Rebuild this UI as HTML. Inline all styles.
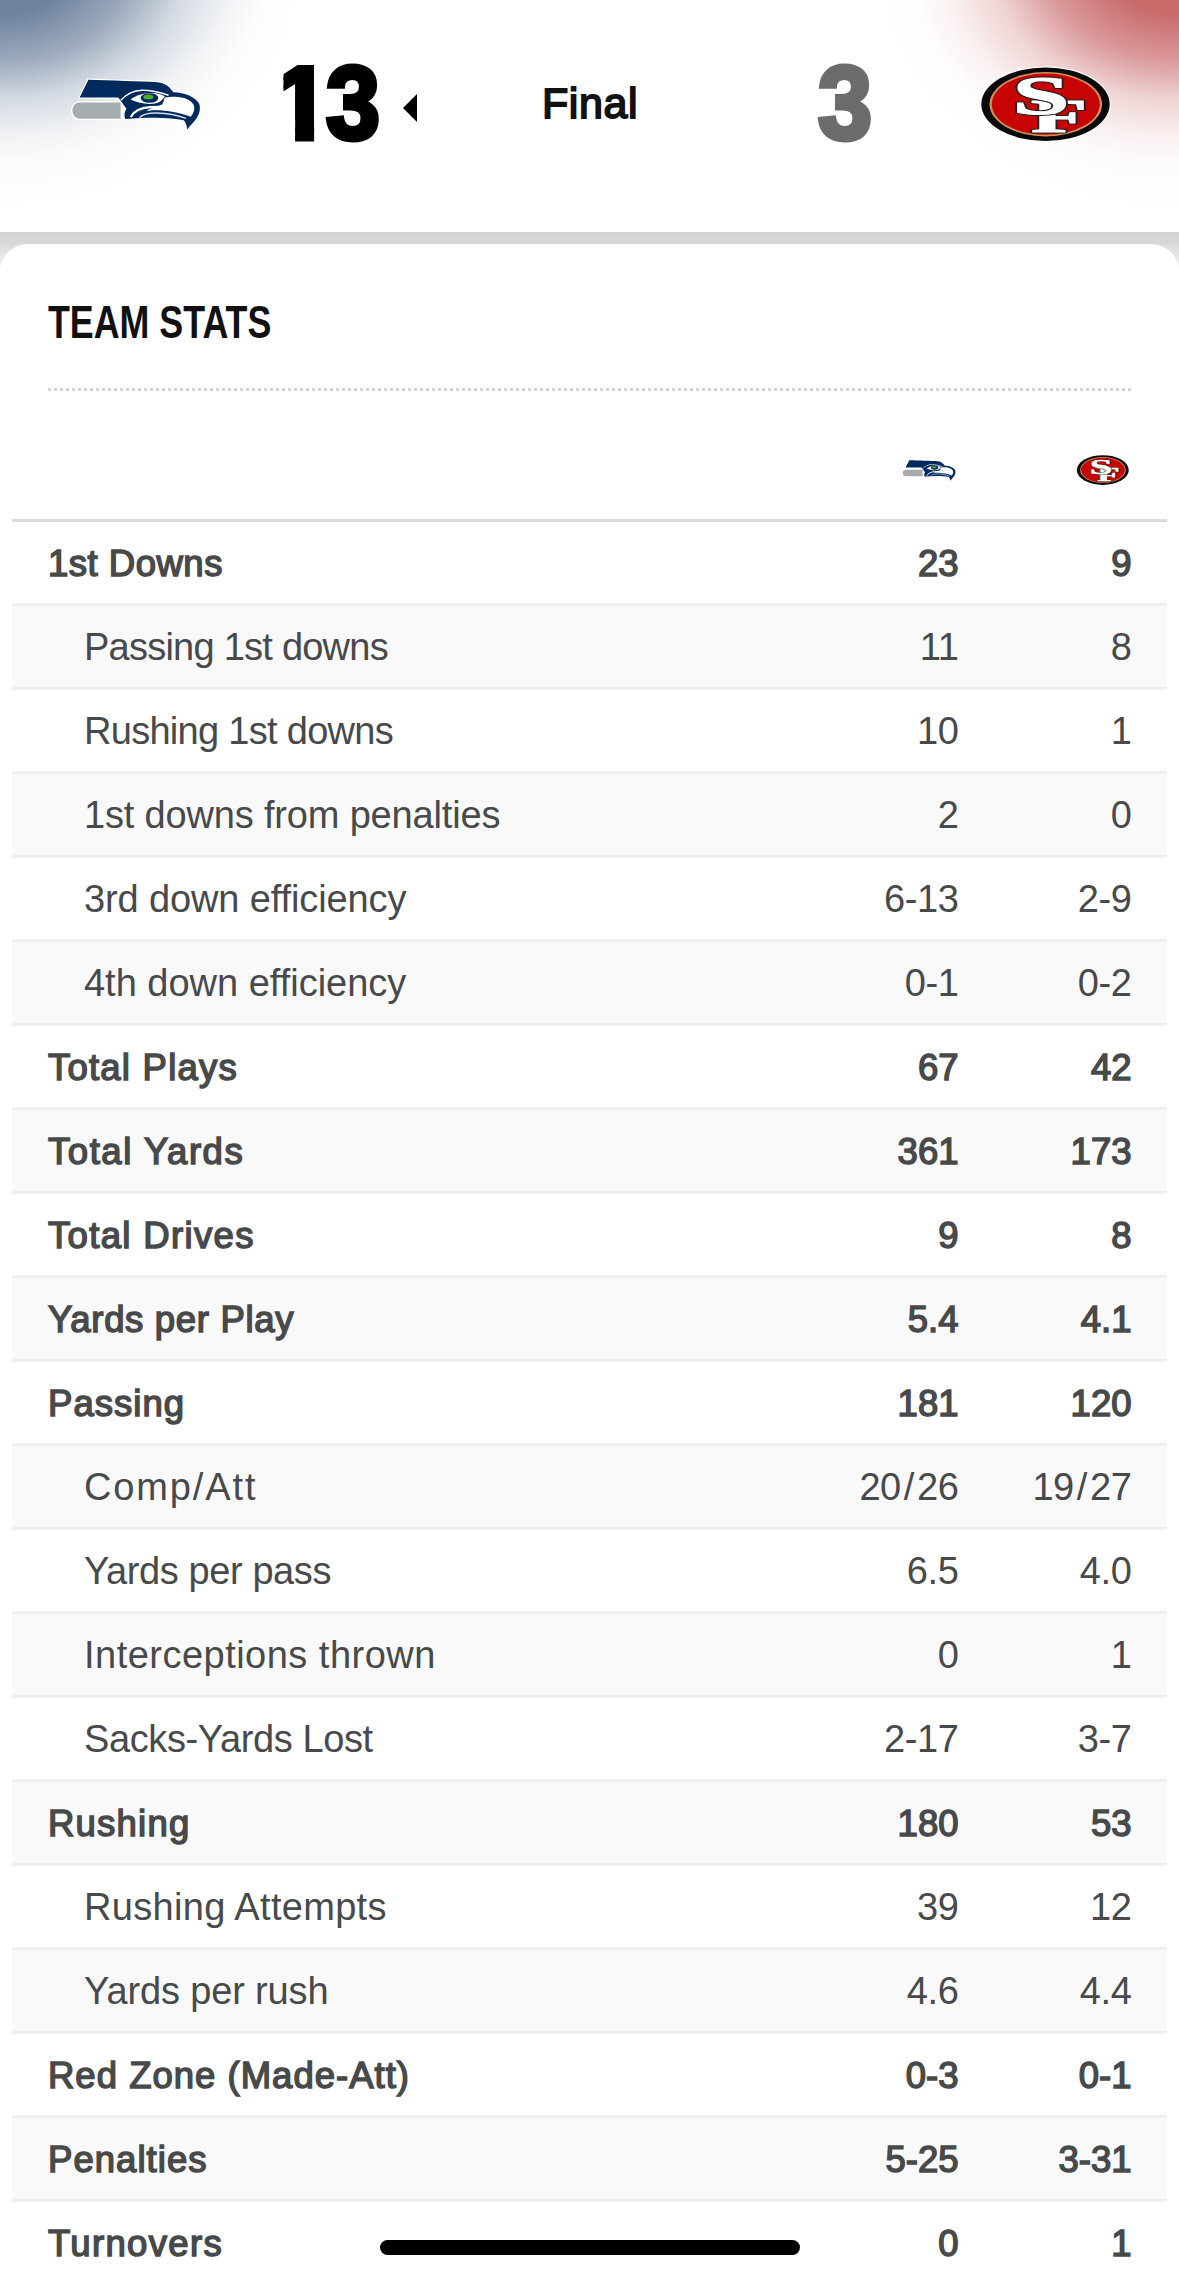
<!DOCTYPE html>
<html>
<head>
<meta charset="utf-8">
<style>
*{margin:0;padding:0;box-sizing:border-box}
html,body{width:1179px;height:2279px;overflow:hidden;background:#fff}
body{position:relative;font-family:"Liberation Sans",Arial,sans-serif;color:#48494a}
.hdr{position:absolute;left:0;top:0;width:1179px;height:232px;background:#fff;overflow:hidden}
.gl{position:absolute;left:0;top:0;width:1179px;height:232px;background:radial-gradient(ellipse 268px 200px at 0 -40px,rgba(110,130,158,1) 0%,rgba(110,130,158,1) 27%,rgba(110,130,158,.66) 50%,rgba(110,130,158,.24) 70%,rgba(110,130,158,.05) 88%,rgba(110,130,158,0) 100%),radial-gradient(ellipse 300px 240px at 0 -30px,rgba(110,130,158,.1) 0%,rgba(110,130,158,.06) 65%,rgba(110,130,158,0) 100%)}
.gr{position:absolute;left:0;top:0;width:1179px;height:232px;background:radial-gradient(ellipse 268px 200px at 1179px -40px,rgba(201,106,107,1) 0%,rgba(201,106,107,1) 27%,rgba(201,106,107,.66) 50%,rgba(201,106,107,.24) 70%,rgba(201,106,107,.05) 88%,rgba(201,106,107,0) 100%),radial-gradient(ellipse 300px 240px at 1179px -30px,rgba(201,106,107,.1) 0%,rgba(201,106,107,.06) 65%,rgba(201,106,107,0) 100%)}
.score{position:absolute;top:50px;font-weight:700;font-size:103px;line-height:108px;-webkit-text-stroke:5px currentColor}
.score span{position:absolute;top:0;transform-origin:0 0}
.d1{left:273.5px;clip-path:polygon(10px 0,40.6px 0,40.6px 120px,21.6px 120px,21.6px 70px,10px 70px)}
.d3{left:326px;transform:scaleX(.942)}
.e3{left:818px;transform:scaleX(.942)}
.final{position:absolute;left:542px;top:79px;font-size:43px;font-weight:400;-webkit-text-stroke:1.8px #111;color:#111;letter-spacing:.6px;line-height:48px}
.tri{position:absolute;left:403px;top:94px;width:0;height:0;border-top:14px solid transparent;border-bottom:14px solid transparent;border-right:14px solid #000}
.band{position:absolute;left:0;top:232px;width:1179px;height:50px;background:linear-gradient(#d3d3d5 0,#d7d7d9 11px,#dedee0 14px,#e6e6e8 24px,#f2f2f3 34px,#fff 44px)}
.card{position:absolute;left:0;top:244px;width:1179px;height:2100px;background:#fff;border-radius:28px 28px 0 0}
.title{position:absolute;left:48px;top:297px;font-size:46px;font-weight:700;color:#111;line-height:50px;transform-origin:0 0;transform:scaleX(.778);white-space:nowrap}
.dots{position:absolute;left:48px;top:388px;width:1083px;height:3px;background-image:linear-gradient(90deg,#d3d3d3 0,#d3d3d3 3px,transparent 3px);background-size:6px 3px}
.thb{position:absolute;left:12px;top:519px;width:1155px;height:3px;background:#dadada}
.tbl{position:absolute;left:12px;top:522px;width:1155px}
.r{position:relative;height:84px;border-bottom:3px solid #efefef;font-size:38px;line-height:83px;white-space:nowrap;letter-spacing:-.4px}
.r.g{background:#f9f9f9}
.r .l{position:absolute;left:72px}
.r .a{position:absolute;right:208.5px}
.r .b{position:absolute;right:35.5px}
.r.bd{font-weight:400;font-size:36.5px;-webkit-text-stroke:1.5px currentColor;letter-spacing:.7px}
.r.bd .l{left:36px}
.r.bd .a,.r.bd .b{letter-spacing:0}
.sl{margin:0 3px}
.home{position:absolute;left:380px;top:2240px;width:420px;height:15px;border-radius:8px;background:#000}
</style>
</head>
<body>
<div class="hdr">
  <div class="gl"></div>
  <div class="gr"></div>
</div>
<div class="score" style="left:0;color:#000"><span class="d1">1</span><span class="d3">3</span></div>
<div class="tri"></div>
<div class="final">Final</div>
<div class="score" style="left:0;color:#6b6c6e"><span class="e3">3</span></div>
<div class="band"></div>
<div class="card"></div>
<div class="title">TEAM STATS</div>
<div class="dots"></div>
<div class="thb"></div>
<div class="tbl">
  <div class="r bd"><span class="l" style="letter-spacing:0.5px">1st Downs</span><span class="a">23</span><span class="b">9</span></div>
  <div class="r g"><span class="l" style="letter-spacing:-0.76px">Passing 1st downs</span><span class="a">11</span><span class="b">8</span></div>
  <div class="r"><span class="l" style="letter-spacing:-0.71px">Rushing 1st downs</span><span class="a">10</span><span class="b">1</span></div>
  <div class="r g"><span class="l" style="letter-spacing:-0.17px">1st downs from penalties</span><span class="a">2</span><span class="b">0</span></div>
  <div class="r"><span class="l" style="letter-spacing:-0.12px">3rd down efficiency</span><span class="a">6-13</span><span class="b">2-9</span></div>
  <div class="r g"><span class="l" style="letter-spacing:-0.01px">4th down efficiency</span><span class="a">0-1</span><span class="b">0-2</span></div>
  <div class="r bd"><span class="l" style="letter-spacing:1.22px">Total Plays</span><span class="a">67</span><span class="b">42</span></div>
  <div class="r g bd"><span class="l" style="letter-spacing:1.55px">Total Yards</span><span class="a">361</span><span class="b">173</span></div>
  <div class="r bd"><span class="l" style="letter-spacing:1.34px">Total Drives</span><span class="a">9</span><span class="b">8</span></div>
  <div class="r g bd"><span class="l" style="letter-spacing:0.68px">Yards per Play</span><span class="a">5.4</span><span class="b">4.1</span></div>
  <div class="r bd"><span class="l" style="letter-spacing:1.03px">Passing</span><span class="a">181</span><span class="b">120</span></div>
  <div class="r g"><span class="l" style="letter-spacing:1.87px">Comp/Att</span><span class="a">20<span class="sl">/</span>26</span><span class="b">19<span class="sl">/</span>27</span></div>
  <div class="r"><span class="l" style="letter-spacing:-0.41px">Yards per pass</span><span class="a">6.5</span><span class="b">4.0</span></div>
  <div class="r g"><span class="l" style="letter-spacing:0.48px">Interceptions thrown</span><span class="a">0</span><span class="b">1</span></div>
  <div class="r"><span class="l" style="letter-spacing:-0.39px">Sacks-Yards Lost</span><span class="a">2-17</span><span class="b">3-7</span></div>
  <div class="r g bd"><span class="l" style="letter-spacing:1.22px">Rushing</span><span class="a">180</span><span class="b">53</span></div>
  <div class="r"><span class="l" style="letter-spacing:0.31px">Rushing Attempts</span><span class="a">39</span><span class="b">12</span></div>
  <div class="r g"><span class="l" style="letter-spacing:-0.14px">Yards per rush</span><span class="a">4.6</span><span class="b">4.4</span></div>
  <div class="r bd"><span class="l" style="letter-spacing:1.01px">Red Zone (Made-Att)</span><span class="a">0-3</span><span class="b">0-1</span></div>
  <div class="r g bd"><span class="l" style="letter-spacing:1.05px">Penalties</span><span class="a">5-25</span><span class="b">3-31</span></div>
  <div class="r bd"><span class="l" style="letter-spacing:1.34px">Turnovers</span><span class="a">0</span><span class="b">1</span></div>
</div>





<!--LOGOS--><svg style="position:absolute;left:66px;top:72px" width="140" height="64" viewBox="66 72 140 64"><path d="M78 98.6 L87.6 78.6 C110 79.5 140 80 158 81 C166 82 171 86 174.5 91.3 C187 91.8 196.5 96.5 200.3 103 C202.8 108 201 115.5 196 121.5 C193 125 190 128 186.8 131.5 C186.8 127 186 123.5 184 121.5 C170 118.2 150 118.3 124 120.2 C122.4 116 123 112 125 108.8 C123 106 121 103.5 119.3 101 L117 98.8 Z" fill="#fff"/>
<path d="M79.5 101.3 L125 101.3 L125 120 L79.5 120 C74.5 120 71.1 116 71.1 110.6 C71.1 105.3 74.5 101.3 79.5 101.3 Z" fill="#fff"/>
<path d="M80 102.6 L120.6 102.6 L120.6 118.7 L80 118.7 C75.5 118.7 72.4 115.3 72.4 110.6 C72.4 106 75.5 102.6 80 102.6 Z" fill="#a5acaf"/>
<path d="M79.6 97.6 L88.4 79.8 C110 80.6 140 81.2 157.5 82.2 C165.5 83 170 87 173.3 92.3 C185.5 92.8 195 97 198.9 103.3 C201.2 108 199.6 115 195 120.5 C192.3 123.7 189.5 126.5 187 129.6 C187 125.8 186 122.8 183.8 120.3 C170 117 150 117 125.2 119 C123.8 115.5 124.4 112 126.4 108.7 C124.5 106 122.6 103.5 120.7 100.8 L118.2 97.6 Z" fill="#002a5c"/>
<path d="M120.8 100.3 C126 94.5 133 90.3 142 90.2 C151 90.1 160 92.3 168.5 95.2" fill="none" stroke="#fff" stroke-width="1.5"/>
<path d="M164.5 97.5 C168 97 171 96.8 175 96.8 C184 97 191 100 193.8 105 C195.2 109 193.8 113 190.8 116.8 C184 114 172 111.2 160 110.3 C155 110 150 110.2 146.5 111 C150 108 157 106.5 162 104.5 C163.5 102 164 100 164.5 97.5 Z" fill="#fff"/>
<path d="M130.8 117 C134 111 141 107.8 150 107.2 L160 106.8" fill="none" stroke="#fff" stroke-width="2.3"/>
<path d="M139.5 117.6 C143 114 149 112.8 157 113 C167 113.3 177 115 186 118.3" fill="none" stroke="#d5dde6" stroke-width="1.4"/>
<path d="M130.5 99.6 C136.5 95 144.5 92.8 152 93.1 C157.5 93.3 161.5 94.6 164.8 96.2 C162.5 100.2 159 102.8 155 103.6 C147 104.6 137.5 103.2 130.5 99.6 Z" fill="#fff"/>
<ellipse cx="149.5" cy="98" rx="8.8" ry="4.8" fill="#002a5c"/>
<ellipse cx="148.3" cy="96.9" rx="5" ry="2.5" fill="#4fae32"/>
</svg><svg style="position:absolute;left:976px;top:62px" width="140" height="84" viewBox="976 62 140 84"><ellipse cx="1045.5" cy="104.2" rx="65.4" ry="38" fill="#fff" opacity=".85"/>
<ellipse cx="1045.5" cy="104.2" rx="64.2" ry="36.8" fill="#0a0a0a"/>
<ellipse cx="1045.8" cy="104.2" rx="56.3" ry="32.2" fill="#cf9160"/>
<ellipse cx="1045.8" cy="104.2" rx="54" ry="30.6" fill="#c70303"/>
<g font-family="'Liberation Serif', serif" font-weight="700" text-anchor="middle">
<text x="1059" y="132" font-size="46" fill="#fff" stroke="#222" stroke-width="3" stroke-linejoin="round" transform="translate(1059 0) scale(2 1) translate(-1059 0)">F</text>
<text x="1059" y="132" font-size="46" fill="#fff" stroke="#fff" stroke-width="1" transform="translate(1059 0) scale(2 1) translate(-1059 0)">F</text>
<text x="1041" y="114.3" font-size="54" fill="#fff" stroke="#222" stroke-width="3" stroke-linejoin="round" transform="translate(1041 0) scale(1.9 1) translate(-1041 0)">S</text>
<text x="1041" y="114.3" font-size="54" fill="#fff" stroke="#fff" stroke-width="1" transform="translate(1041 0) scale(1.9 1) translate(-1041 0)">S</text>
</g>
</svg><svg style="position:absolute;left:900px;top:457px" width="58" height="26.5" viewBox="66 72 140 64"><path d="M78 98.6 L87.6 78.6 C110 79.5 140 80 158 81 C166 82 171 86 174.5 91.3 C187 91.8 196.5 96.5 200.3 103 C202.8 108 201 115.5 196 121.5 C193 125 190 128 186.8 131.5 C186.8 127 186 123.5 184 121.5 C170 118.2 150 118.3 124 120.2 C122.4 116 123 112 125 108.8 C123 106 121 103.5 119.3 101 L117 98.8 Z" fill="#fff"/>
<path d="M79.5 101.3 L125 101.3 L125 120 L79.5 120 C74.5 120 71.1 116 71.1 110.6 C71.1 105.3 74.5 101.3 79.5 101.3 Z" fill="#fff"/>
<path d="M80 102.6 L120.6 102.6 L120.6 118.7 L80 118.7 C75.5 118.7 72.4 115.3 72.4 110.6 C72.4 106 75.5 102.6 80 102.6 Z" fill="#a5acaf"/>
<path d="M79.6 97.6 L88.4 79.8 C110 80.6 140 81.2 157.5 82.2 C165.5 83 170 87 173.3 92.3 C185.5 92.8 195 97 198.9 103.3 C201.2 108 199.6 115 195 120.5 C192.3 123.7 189.5 126.5 187 129.6 C187 125.8 186 122.8 183.8 120.3 C170 117 150 117 125.2 119 C123.8 115.5 124.4 112 126.4 108.7 C124.5 106 122.6 103.5 120.7 100.8 L118.2 97.6 Z" fill="#002a5c"/>
<path d="M120.8 100.3 C126 94.5 133 90.3 142 90.2 C151 90.1 160 92.3 168.5 95.2" fill="none" stroke="#fff" stroke-width="1.5"/>
<path d="M164.5 97.5 C168 97 171 96.8 175 96.8 C184 97 191 100 193.8 105 C195.2 109 193.8 113 190.8 116.8 C184 114 172 111.2 160 110.3 C155 110 150 110.2 146.5 111 C150 108 157 106.5 162 104.5 C163.5 102 164 100 164.5 97.5 Z" fill="#fff"/>
<path d="M130.8 117 C134 111 141 107.8 150 107.2 L160 106.8" fill="none" stroke="#fff" stroke-width="2.3"/>
<path d="M139.5 117.6 C143 114 149 112.8 157 113 C167 113.3 177 115 186 118.3" fill="none" stroke="#d5dde6" stroke-width="1.4"/>
<path d="M130.5 99.6 C136.5 95 144.5 92.8 152 93.1 C157.5 93.3 161.5 94.6 164.8 96.2 C162.5 100.2 159 102.8 155 103.6 C147 104.6 137.5 103.2 130.5 99.6 Z" fill="#fff"/>
<ellipse cx="149.5" cy="98" rx="8.8" ry="4.8" fill="#002a5c"/>
<ellipse cx="148.3" cy="96.9" rx="5" ry="2.5" fill="#4fae32"/>
</svg><svg style="position:absolute;left:1074px;top:453px" width="58" height="34" viewBox="976 62 140 84"><ellipse cx="1045.5" cy="104.2" rx="65.4" ry="38" fill="#fff" opacity=".85"/>
<ellipse cx="1045.5" cy="104.2" rx="64.2" ry="36.8" fill="#0a0a0a"/>
<ellipse cx="1045.8" cy="104.2" rx="56.3" ry="32.2" fill="#cf9160"/>
<ellipse cx="1045.8" cy="104.2" rx="54" ry="30.6" fill="#c70303"/>
<g font-family="'Liberation Serif', serif" font-weight="700" text-anchor="middle">
<text x="1059" y="132" font-size="46" fill="#fff" stroke="#222" stroke-width="3" stroke-linejoin="round" transform="translate(1059 0) scale(2 1) translate(-1059 0)">F</text>
<text x="1059" y="132" font-size="46" fill="#fff" stroke="#fff" stroke-width="1" transform="translate(1059 0) scale(2 1) translate(-1059 0)">F</text>
<text x="1041" y="114.3" font-size="54" fill="#fff" stroke="#222" stroke-width="3" stroke-linejoin="round" transform="translate(1041 0) scale(1.9 1) translate(-1041 0)">S</text>
<text x="1041" y="114.3" font-size="54" fill="#fff" stroke="#fff" stroke-width="1" transform="translate(1041 0) scale(1.9 1) translate(-1041 0)">S</text>
</g>
</svg><!--/LOGOS-->
<div class="home"></div>
</body>
</html>
